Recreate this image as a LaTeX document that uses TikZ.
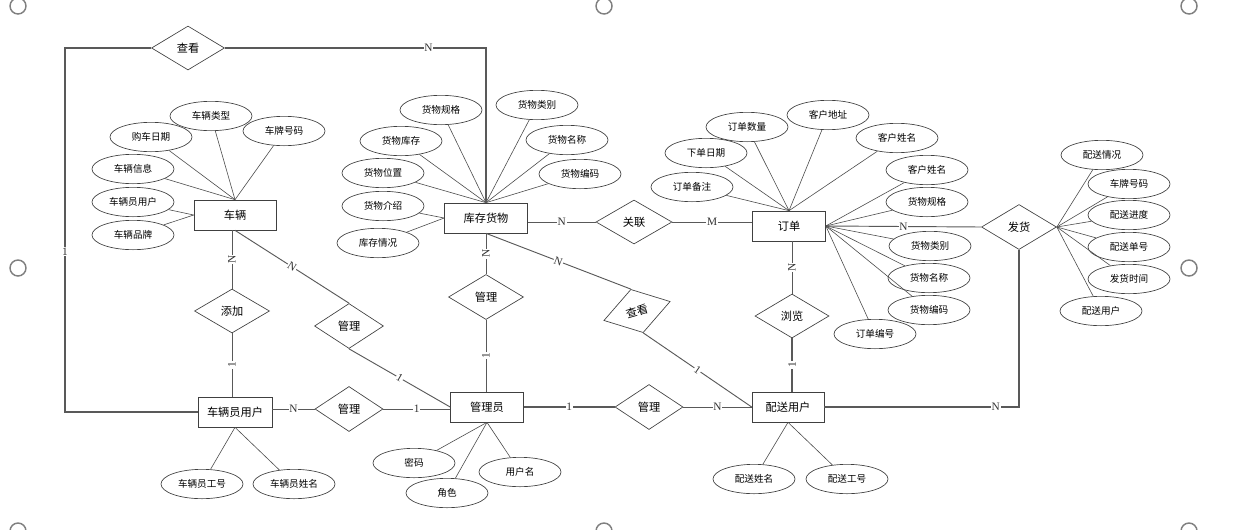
\documentclass[tikz,border=0pt]{standalone}
\usepackage{fontspec}
\setmainfont{Liberation Serif}
\newfontfamily\cjk{Noto Sans CJK SC}
\usetikzlibrary{shapes.geometric}
\begin{document}
\begin{tikzpicture}[x=0.75pt,y=-0.75pt,
  ent/.style={draw=black!75, line width=0.5pt, minimum height=22.5pt, inner sep=0pt, font=\cjk\fontsize{8.4}{9}\selectfont},
  attr/.style={ellipse, draw=black!75, line width=0.5pt, minimum width=61.5pt, minimum height=22pt, inner sep=0pt, font=\cjk\fontsize{7.2}{8}\selectfont},
  rel/.style={diamond, draw=black!75, line width=0.5pt, minimum width=56pt, minimum height=33pt, inner sep=0pt, font=\cjk\fontsize{8.4}{9}\selectfont},
  lbl/.style={fill=white, inner sep=0.6pt, font=\fontsize{8.5}{9}\selectfont, text=black!80},
  aline/.style={draw=black!70, line width=0.45pt},
  rline/.style={draw=black!65, line width=0.7pt},
  tline/.style={draw=black!65, line width=1.1pt},
  handle/.style={draw=black!50, line width=1.1pt}
]
\useasboundingbox (0,0) rectangle (1256,529);

% selection handles
\foreach \hx/\hy in {18/6,604/6,1189/6,18/268,1189/268,18/531,604/531,1189/531}
  \draw[handle] (\hx,\hy) circle[radius=6pt];

% entities
\node[ent, minimum width=61.5pt] (car) at (235,215) {车辆};
\node[ent, minimum width=62.25pt] (stock) at (486,218) {库存货物};
\node[ent, minimum width=54.75pt] (order) at (789,226) {订单};
\node[ent, minimum width=55.5pt] (carman) at (235,412) {车辆员用户};
\node[ent, minimum width=54.75pt] (admin) at (487,407) {管理员};
\node[ent, minimum width=54pt] (deliv) at (788,407) {配送用户};

% relationships
\node[rel, minimum width=54.75pt] (kan1) at (188,48) {查看};
\node[rel, minimum width=57pt] (guanlian) at (634,222) {关联};
\node[rel, minimum width=56.25pt, minimum height=33.75pt] (fahuo) at (1019,227) {发货};
\node[rel, minimum width=55.5pt] (liulan) at (792,316) {浏览};
\node[rel, minimum width=56.25pt] (tianjia) at (232,311) {添加};
\node[rel, minimum width=51.75pt, minimum height=33.75pt] (gl1) at (349,326) {管理};
\node[rel, minimum width=51pt, minimum height=33.75pt] (gl2) at (349,409) {管理};
\node[rel, minimum width=56.25pt, minimum height=33.75pt] (gl3) at (486,297) {管理};
\node[rel, minimum width=51pt, minimum height=33.75pt] (gl4) at (649,407) {管理};
\node[rel, minimum width=51.75pt, minimum height=33.75pt, rotate=16] (kan2) at (637,311) {查看};

% attributes of 车辆
\node[attr] (cl1) at (211,116) {车辆类型};
\node[attr] (cl2) at (151,137) {购车日期};
\node[attr] (cl3) at (284,131) {车牌号码};
\node[attr] (cl4) at (133,169) {车辆信息};
\node[attr] (cl5) at (133,202) {车辆员用户};
\node[attr] (cl6) at (133,235) {车辆品牌};
% attributes of 库存货物
\node[attr] (s1) at (441,110) {货物规格};
\node[attr] (s2) at (537,105) {货物类别};
\node[attr] (s3) at (401,141) {货物库存};
\node[attr] (s4) at (567,140) {货物名称};
\node[attr] (s5) at (383,173) {货物位置};
\node[attr] (s6) at (580,174) {货物编码};
\node[attr] (s7) at (383,206) {货物介绍};
\node[attr] (s8) at (378,243) {库存情况};
% attributes of 订单
\node[attr] (o1) at (747,127) {订单数量};
\node[attr] (o2) at (828,115) {客户地址};
\node[attr] (o3) at (706,153) {下单日期};
\node[attr] (o4) at (897,138) {客户姓名};
\node[attr] (o5) at (692,187) {订单备注};
\node[attr] (o6) at (927,170) {客户姓名};
\node[attr] (o7) at (927,202) {货物规格};
\node[attr] (o8) at (930,246) {货物类别};
\node[attr] (o9) at (929,278) {货物名称};
\node[attr] (o10) at (929,310) {货物编码};
\node[attr] (o11) at (875,334) {订单编号};
% attributes of 发货
\node[attr] (f1) at (1102,155) {配送情况};
\node[attr] (f2) at (1129,184) {车牌号码};
\node[attr] (f3) at (1129,215) {配送进度};
\node[attr] (f4) at (1129,247) {配送单号};
\node[attr] (f5) at (1129,279) {发货时间};
\node[attr] (f6) at (1101,311) {配送用户};
% attributes of 车辆员用户, 管理员, 配送用户
\node[attr] (m1) at (202,484) {车辆员工号};
\node[attr] (m2) at (294,484) {车辆员姓名};
\node[attr] (a1) at (414,463) {密码};
\node[attr] (a2) at (447,493) {角色};
\node[attr] (a3) at (520,472) {用户名};
\node[attr] (d1) at (754,479) {配送姓名};
\node[attr] (d2) at (847,479) {配送工号};

% attribute lines
\foreach \n in {cl1,cl2,cl3,cl4} \draw[aline] (\n) -- (car.north);
\foreach \n in {cl5,cl6} \draw[aline] (\n) -- (car.west);
\foreach \n in {s1,s2,s3,s4,s5,s6} \draw[aline] (\n) -- (stock.north);
\foreach \n in {s7,s8} \draw[aline] (\n) -- (stock.west);
\foreach \n in {o1,o2,o3,o4,o5} \draw[aline] (\n) -- (order.north);
\foreach \n in {o6,o7,o8,o9,o10,o11} \draw[aline] (\n) -- (order.east);
\foreach \n in {f1,f2,f3,f4,f5,f6} \draw[aline] (\n) -- (fahuo.east);
\foreach \n in {m1,m2} \draw[aline] (\n) -- (carman.south);
\foreach \n in {a1,a2,a3} \draw[aline] (\n) -- (admin.south);
\foreach \n in {d1,d2} \draw[aline] (\n) -- (deliv.south);

% relationship connectors
\coordinate (lp) at (65,412);
\draw[tline] (kan1.west) -| node[lbl, pos=0.78]{1} (lp) -- (carman.west);
\draw[tline] (kan1.east) -| node[lbl, pos=0.39]{N} (stock.north);

\draw[rline] (car.south -| tianjia.north) -- node[lbl, rotate=90]{N} (tianjia.north);
\draw[rline] (tianjia.south) -- node[lbl, rotate=90]{1} (tianjia.south |- carman.north);

\draw[rline] (car.south) -- node[lbl, sloped]{N} (gl1.north);
\draw[rline] (gl1.south) -- node[lbl, sloped]{1} (admin.west);

\draw[rline] (gl2.west -| carman.east) -- node[lbl]{N} (gl2.west);
\draw[rline] (gl2.east) -- node[lbl]{1} (gl2.east -| admin.west);

\draw[rline] (stock.south) -- node[lbl, rotate=90]{N} (gl3.north);
\draw[rline] (gl3.south) -- node[lbl, rotate=90]{1} (gl3.south |- admin.north);

\draw[tline] (admin.east) -- node[lbl]{1} (gl4.west);
\draw[rline] (gl4.east) -- node[lbl]{N} (deliv.west);

\draw[rline] (stock.south) -- node[lbl, sloped]{N} (kan2.north);
\draw[rline] (kan2.south) -- node[lbl, sloped]{1} (deliv.west);

\draw[rline] (guanlian.west -| stock.east) -- node[lbl]{N} (guanlian.west);
\draw[rline] (guanlian.east) -- node[lbl]{M} (guanlian.east -| order.west);

\draw[rline] (order.east) -- node[lbl]{N} (fahuo.west);

\draw[rline] (order.south -| liulan.north) -- node[lbl, rotate=90]{N} (liulan.north);
\draw[tline] (liulan.south) -- node[lbl, rotate=90]{1} (liulan.south |- deliv.north);

\draw[tline] (deliv.east) -| node[lbl, pos=0.44]{N} (fahuo.south);
\end{tikzpicture}
\end{document}
